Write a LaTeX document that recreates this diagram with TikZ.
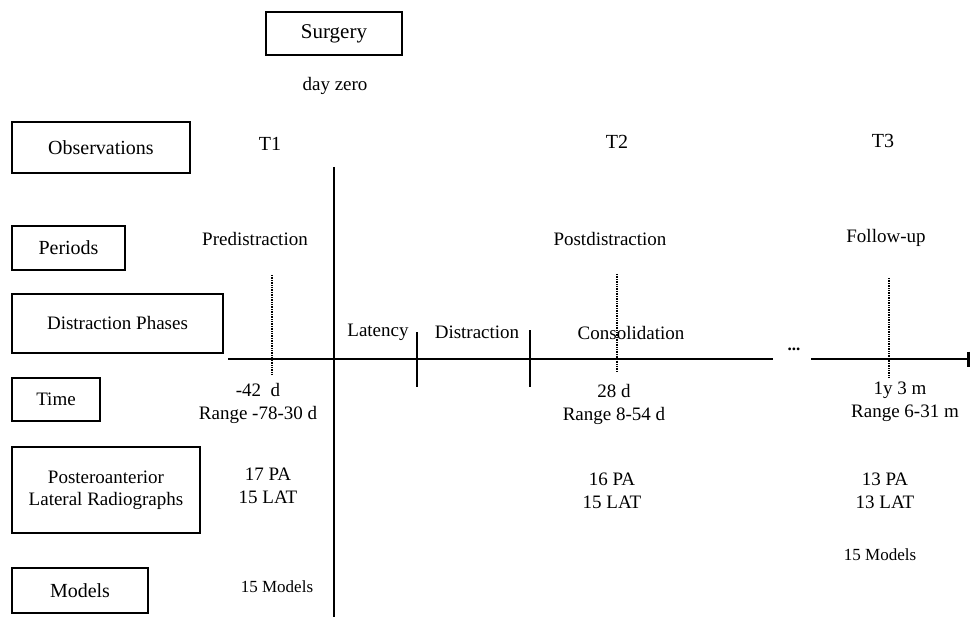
\documentclass[tikz,border=0pt]{standalone}
\usepackage{fontspec}
\setmainfont{Liberation Serif}
\usetikzlibrary{arrows.meta}
\begin{document}
\begin{tikzpicture}[x=1pt,y=-1pt,
  every node/.style={font=\fontsize{19}{23}\selectfont, inner sep=0pt, align=center},
  labelbox/.style={draw, line width=1.3pt, inner sep=0pt},
  txt/.style={},
  axisline/.style={line width=1.5pt},
  dotline/.style={line width=1.3pt, dash pattern=on 1pt off 0.7pt},
  tickline/.style={line width=1.4pt}]
\useasboundingbox (0,0) rectangle (971,617);
% left boxes
\node[labelbox, minimum width=136pt, minimum height=43pt, font=\fontsize{21}{24}\selectfont] (surg) at (334,33.5) {Surgery};
\node[txt] (day) at (335,86) {day zero};
\node[labelbox, minimum width=178pt, minimum height=51pt, font=\fontsize{20}{24}\selectfont] (obs) at (101,147.5) {Observations};
\node[labelbox, minimum width=113pt, minimum height=44pt, font=\fontsize{20}{24}\selectfont] (per) at (68.5,248) {Periods};
\node[labelbox, minimum width=211pt, minimum height=59pt] (phase) at (117.5,323.5) {Distraction Phases};
\node[labelbox, minimum width=88pt, minimum height=43pt] (time) at (56,399.5) {Time};
\node[labelbox, minimum width=188pt, minimum height=86pt] (rad) at (106,490) {Posteroanterior\\[-1pt]Lateral Radiographs};
\node[labelbox, minimum width=136pt, minimum height=45pt, font=\fontsize{20}{24}\selectfont] (mod) at (80,590.5) {Models};
% observation labels
\node[font=\fontsize{20}{24}\selectfont] (t1) at (270,144) {T1};
\node[font=\fontsize{20}{24}\selectfont] (t2) at (617,142) {T2};
\node[font=\fontsize{20}{24}\selectfont] (t3) at (883,141) {T3};
% periods
\node (pre) at (255,239) {Predistraction};
\node (post) at (610,239) {Postdistraction};
\node (fol) at (886,238) {Follow-up};
% phases
\node (lat) at (378,332) {Latency};
\node (dis) at (477,332) {Distraction};
\node (con) at (631,333) {Consolidation};
% times
\node (tm1) at (258,403) {-42~~d\\Range -78-30 d};
\node (tm2) at (614,404) {28 d\\Range 8-54 d};
\node (tm3) at (900,402) {1y 3 m\\\hspace*{10pt}Range 6-31 m};
% radiographs
\node (r1) at (268,485.5) {17 PA\\15 LAT};
\node (r2) at (612,490.5) {16 PA\\15 LAT};
\node (r3) at (885,490.5) {13 PA\\13 LAT};
% models
\node[font=\fontsize{17}{20}\selectfont] (m1) at (277,587) {15 Models};
\node[font=\fontsize{17}{20}\selectfont] (m3) at (880,555) {15 Models};
% dots
\node[font=\fontsize{17}{20}\selectfont\bfseries] (ell) at (794,349) {...};
% coordinates for axis and lines
\coordinate (axL) at (228,359);
\coordinate (axB1) at (773,359);
\coordinate (axB2) at (811,359);
\coordinate (axR) at (970,359);
\coordinate (vT) at (334,167);
\coordinate (vB) at (334,617);
\coordinate (k1T) at (417,332);
\coordinate (k1B) at (417,387);
\coordinate (k2T) at (530,330);
\coordinate (k2B) at (530,387);
\coordinate (d1T) at (272,275);
\coordinate (d1B) at (272,374);
\coordinate (d2T) at (617,274);
\coordinate (d2B) at (617,371);
\coordinate (d3T) at (889,278);
\coordinate (d3B) at (889,377);
% axis
\draw[axisline] (axL) -- (axB1);
\draw[axisline, -{Bar[width=15pt,line width=3pt]}] (axB2) -- (axR);
\draw[line width=1.6pt] (vT) -- (vB);
\draw[tickline] (k1T) -- (k1B);
\draw[tickline] (k2T) -- (k2B);
\draw[dotline] (d1T) -- (d1B);
\draw[dotline] (d2T) -- (d2B);
\draw[dotline] (d3T) -- (d3B);
\end{tikzpicture}
\end{document}
